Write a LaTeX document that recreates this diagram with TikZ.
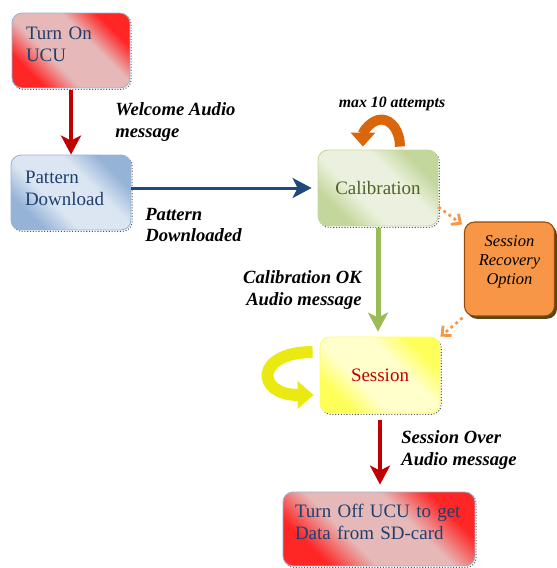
\documentclass[tikz,border=0pt]{standalone}
\usepackage{fontspec}
\setmainfont{Liberation Serif}
\usetikzlibrary{arrows.meta}
\definecolor{ucured}{HTML}{FF2626}
\definecolor{ucupink}{HTML}{E6B9B8}
\definecolor{patblue}{HTML}{95B3D7}
\definecolor{patpale}{HTML}{DCE6F2}
\definecolor{calgreen}{HTML}{C3D69B}
\definecolor{calpale}{HTML}{EBF1DE}
\definecolor{sesyellow}{HTML}{FFFF5A}
\definecolor{sespale}{HTML}{FFFFCC}
\definecolor{recorange}{HTML}{F79646}
\definecolor{recedge}{HTML}{984807}
\definecolor{recshade}{HTML}{4F4A1E}
\definecolor{edgeblue}{HTML}{95B3D7}
\definecolor{textblue}{HTML}{1F3F6F}
\definecolor{textgreen}{HTML}{4F6228}
\definecolor{textred}{HTML}{C00000}
\definecolor{arrred}{HTML}{C00000}
\definecolor{arrblue}{HTML}{1F497D}
\definecolor{arrgreen}{HTML}{9BBB59}
\definecolor{looporange}{HTML}{DA660B}
\definecolor{loopyellow}{HTML}{EAEA12}
\pgfdeclarehorizontalshading{redglow}{100bp}{color(0bp)=(ucured); color(27bp)=(ucured); color(40bp)=(ucupink); color(60bp)=(ucupink); color(73bp)=(ucured); color(100bp)=(ucured)}
\pgfdeclarehorizontalshading{blueglow}{100bp}{color(0bp)=(patblue); color(27bp)=(patblue); color(40bp)=(patpale); color(60bp)=(patpale); color(73bp)=(patblue); color(100bp)=(patblue)}
\pgfdeclarehorizontalshading{greenglow}{100bp}{color(0bp)=(calgreen); color(27bp)=(calgreen); color(40bp)=(calpale); color(60bp)=(calpale); color(73bp)=(calgreen); color(100bp)=(calgreen)}
\pgfdeclarehorizontalshading{yellowglow}{100bp}{color(0bp)=(sesyellow); color(27bp)=(sesyellow); color(40bp)=(sespale); color(60bp)=(sespale); color(73bp)=(sesyellow); color(100bp)=(sesyellow)}
\newcommand\lift[1]{\rule[-#1]{0pt}{0pt}}
\tikzset{
  box/.style={rectangle,rounded corners=0.2cm,line width=0.5pt,inner xsep=0.28cm,
    font=\fontsize{10.8}{12.5}\selectfont,
    preaction={draw=black!65,densely dotted,line width=0.6pt,transform canvas={shift={(0.7pt,-0.8pt)}}}},
  redbox/.style={box,draw=edgeblue,shading=redglow,shading angle=45,text=textblue,align=left},
  bluebox/.style={box,draw=edgeblue,shading=blueglow,shading angle=45,text=textblue,align=left},
  greenbox/.style={box,draw=calgreen,shading=greenglow,shading angle=45,text=textgreen},
  yellowbox/.style={box,draw=sesyellow,shading=yellowglow,shading angle=45,text=textred},
  recbox/.style={rectangle,rounded corners=0.2cm,fill=recorange,draw=recedge,line width=0.6pt,align=center,
    font=\fontsize{9.4}{10.8}\selectfont\itshape,
    preaction={fill=recshade,transform canvas={shift={(1.4pt,-1.6pt)}}}},
  lbl/.style={inner sep=0pt,font=\fontsize{10.6}{12}\selectfont\bfseries\itshape},
  flow/.style={line width=#1,-{Stealth[length=0.38cm,width=0.4cm,inset=0.1cm]}},
  dotflow/.style={recorange,line width=1.6pt,dotted,-{Straight Barb[length=0.14cm,width=0.26cm]}},
  looparrow/.style={looporange,line width=0.2cm,-{Triangle[length=0.28cm,width=0.48cm]}},
  yelloop/.style={loopyellow,line width=0.24cm,-{Triangle[length=0.32cm,width=0.54cm]}}
}
\begin{document}
\begin{tikzpicture}[x=0.02cm,y=-0.02cm]
\useasboundingbox (0,0) rectangle (556,568);
\node[redbox,minimum width=2.36cm,minimum height=1.5cm,text width=1.8cm] (turnon) at (71,50.5) {Turn On\\UCU\lift{0.24cm}};
\node[bluebox,minimum width=2.4cm,minimum height=1.5cm,text width=1.84cm] (pattern) at (71,192.5) {Pattern\\Download\lift{0.18cm}};
\node[greenbox,minimum width=2.4cm,minimum height=1.52cm] (calib) at (378,188) {Calibration};
\node[recbox,minimum width=1.8cm,minimum height=1.88cm] (recovery) at (509.5,269) {Session\\Recovery\\Option\lift{0.34cm}};
\node[yellowbox,minimum width=2.4cm,minimum height=1.52cm] (session) at (380,375) {Session};
\node[redbox,minimum width=3.84cm,minimum height=1.48cm,inner xsep=0.24cm,text width=3.36cm] (turnoff) at (379,529) {Turn Off UCU to get\\Data from SD-card\lift{0.28cm}};

\draw[flow=0.08cm,arrred,shorten <=0.04cm] (turnon) -- (pattern);
\draw[flow=0.06cm,arrblue,shorten >=0.12cm] (pattern.east |- calib.west) -- (calib.west);
\draw[flow=0.1cm,arrgreen,shorten <=0.04cm,shorten >=0.1cm] (calib.south) -- (calib.south |- session.north);
\draw[flow=0.08cm,arrred,shorten <=0.14cm,shorten >=0.14cm] (session.south) -- (session.south |- turnoff.north);
\draw[dotflow] ([yshift=-0.38cm]calib.east) -- ([shift={(-0.04cm,-0.06cm)}]recovery.north west);
\draw[dotflow,shorten <=0.04cm] (recovery.south west) -- (session.north east);
\draw[looparrow] ([xshift=0.44cm,yshift=0.06cm]calib.north) arc[start angle=0,end angle=180,x radius=0.37cm,y radius=0.54cm];
\draw[yelloop] ([shift={(-0.14cm,0.46cm)}]session.west) .. controls +(-1.16cm,0) and +(-1.16cm,0) .. ([shift={(-0.12cm,-0.4cm)}]session.west);

\node[lbl,anchor=west,align=left] (lblwelcome) at (115,122) {Welcome Audio\\message};
\node[lbl,anchor=west,align=left] (lblpattern) at (145,225) {Pattern\\Downloaded};
\node[lbl,font=\fontsize{9}{10}\selectfont\bfseries\itshape] (lblattempts) at (392,104) {max 10 attempts};
\node[lbl,anchor=east,align=right] (lblcalok) at (362,290) {Calibration OK\\Audio message};
\node[lbl,anchor=west,align=left] (lblsessover) at (401,450) {Session Over\\Audio message};
\end{tikzpicture}
\end{document}
